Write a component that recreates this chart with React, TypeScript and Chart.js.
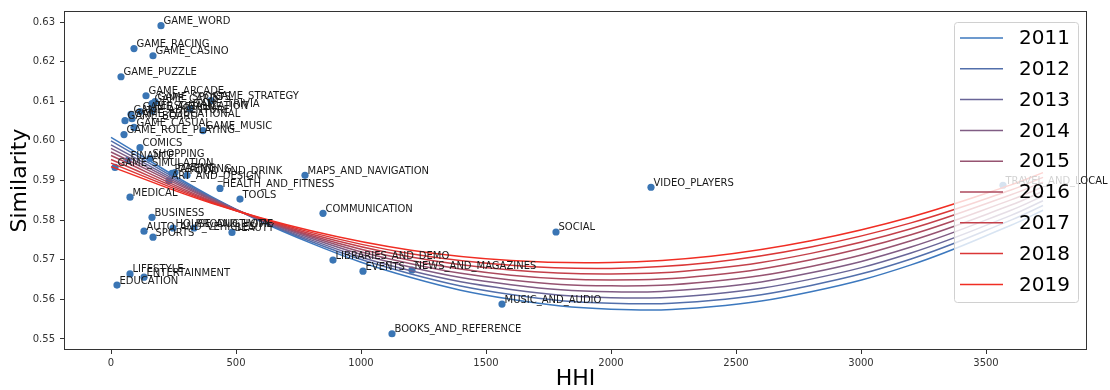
import React, { useEffect, useRef } from 'react';
import { Chart, registerables } from 'chart.js';

Chart.register(...registerables);

// ---- Data ----
const categories = [
  'GAME_WORD', 'GAME_RACING', 'GAME_CASINO', 'GAME_PUZZLE', 'GAME_ARCADE', 'GAME_STRATEGY',
  'GAME_SPORTS', 'GAME_CARD', 'GAME_TRIVIA', 'PERSONALIZATION', 'GAME_ACTION', 'GAME_ADVENTURE',
  'GAME_BOARD', 'GAME_EDUCATIONAL', 'GAME_CASUAL', 'GAME_ROLE_PLAYING', 'GAME_MUSIC', 'COMICS',
  'FINANCE', 'SHOPPING', 'GAME_SIMULATION', 'PARENTING', 'DATING', 'FOOD_AND_DRINK',
  'ART_AND_DESIGN', 'MEDICAL', 'HEALTH_AND_FITNESS', 'TOOLS', 'MAPS_AND_NAVIGATION', 'COMMUNICATION',
  'BUSINESS', 'HOUSE_AND_HOME', 'PRODUCTIVITY', 'AUTO_AND_VEHICLES', 'SPORTS', 'BEAUTY',
  'LIFESTYLE', 'ENTERTAINMENT', 'EDUCATION', 'LIBRARIES_AND_DEMO', 'EVENTS', 'NEWS_AND_MAGAZINES',
  'MUSIC_AND_AUDIO', 'BOOKS_AND_REFERENCE', 'SOCIAL', 'VIDEO_PLAYERS', 'TRAVEL_AND_LOCAL',
];
const hhi = [
  200, 92, 168, 40, 140, 400,
  176, 164, 316, 164, 116, 80,
  56, 84, 92, 52, 368, 116,
  68, 156, 16, 244, 256, 304,
  232, 76, 436, 516, 776, 848,
  164, 248, 332, 132, 168, 484,
  76, 132, 24, 888, 1008, 1204,
  1564, 1124, 1780, 2160, 3568,
];
const similarity = [
  0.6291, 0.6233, 0.6215, 0.6162, 0.6114, 0.6102,
  0.6099, 0.6094, 0.6081, 0.6076, 0.6074, 0.6067,
  0.6051, 0.6056, 0.6034, 0.6016, 0.6026, 0.5983,
  0.5951, 0.5956, 0.5933, 0.5918, 0.5920, 0.5913,
  0.5899, 0.5858, 0.5880, 0.5853, 0.5913, 0.5817,
  0.5807, 0.5780, 0.5780, 0.5772, 0.5757, 0.5769,
  0.5664, 0.5656, 0.5636, 0.5699, 0.5671, 0.5674,
  0.5588, 0.5513, 0.5770, 0.5883, 0.5888,
];

const years = ['2011', '2012', '2013', '2014', '2015', '2016', '2017', '2018', '2019'];
const fitX = [0, 400, 800, 1200, 1600, 2000, 2400, 2800, 3200, 3600, 3728];
const fit2011 = [0.6009, 0.5860, 0.5742, 0.5655, 0.5600, 0.5575, 0.5581, 0.5619, 0.5687, 0.5787, 0.5825];
const fit2012 = [0.6000, 0.5858, 0.5746, 0.5664, 0.5612, 0.5590, 0.5597, 0.5635, 0.5702, 0.5800, 0.5837];
const fit2013 = [0.5990, 0.5856, 0.5750, 0.5672, 0.5625, 0.5604, 0.5613, 0.5651, 0.5717, 0.5812, 0.5849];
const fit2014 = [0.5981, 0.5854, 0.5754, 0.5681, 0.5637, 0.5619, 0.5629, 0.5667, 0.5732, 0.5825, 0.5861];
const fit2015 = [0.5972, 0.5852, 0.5758, 0.5690, 0.5649, 0.5634, 0.5645, 0.5683, 0.5748, 0.5838, 0.5873];
const fit2016 = [0.5963, 0.5849, 0.5761, 0.5698, 0.5661, 0.5649, 0.5661, 0.5700, 0.5763, 0.5851, 0.5884];
const fit2017 = [0.5953, 0.5847, 0.5765, 0.5707, 0.5674, 0.5664, 0.5677, 0.5716, 0.5778, 0.5864, 0.5896];
const fit2018 = [0.5944, 0.5845, 0.5769, 0.5715, 0.5686, 0.5678, 0.5693, 0.5732, 0.5793, 0.5876, 0.5908];
const fit2019 = [0.5935, 0.5843, 0.5773, 0.5724, 0.5698, 0.5693, 0.5709, 0.5748, 0.5808, 0.5889, 0.5920];
const fits = [fit2011, fit2012, fit2013, fit2014, fit2015, fit2016, fit2017, fit2018, fit2019];

const xTicks = [0, 500, 1000, 1500, 2000, 2500, 3000, 3500];
const yTicks = [0.55, 0.56, 0.57, 0.58, 0.59, 0.60, 0.61, 0.62, 0.63];

// ---- Styles ----
const yearColors = [
  'rgb(60,120,190)', 'rgb(82,111,171)', 'rgb(105,101,151)', 'rgb(128,92,132)', 'rgb(150,83,113)',
  'rgb(172,73,93)', 'rgb(195,64,74)', 'rgb(218,54,54)', 'rgb(240,45,35)',
];
const DOT_COLOR = '#3a75b4';
const FONT = '"DejaVu Sans", sans-serif';

const labelPlugin = {
  id: 'pointLabels',
  afterDatasetsDraw(chart: any) {
    const ctx = chart.ctx;
    const xs = chart.scales.x;
    const ys = chart.scales.y;
    ctx.save();
    ctx.font = `10px ${FONT}`;
    ctx.fillStyle = '#1a1a1a';
    ctx.textAlign = 'left';
    ctx.textBaseline = 'alphabetic';
    categories.forEach((c, i) => {
      const px = xs.getPixelForValue(hhi[i]);
      const py = ys.getPixelForValue(similarity[i]);
      ctx.fillText(c, px + 2.5, py - 1.5);
    });
    const a = chart.chartArea;
    ctx.strokeStyle = '#333';
    ctx.lineWidth = 1;
    ctx.strokeRect(a.left + 0.5, a.top + 0.5, a.right - a.left - 1, a.bottom - a.top - 1);
    ctx.restore();
  },
};

const legendPlugin = {
  id: 'yearLegend',
  afterDraw(chart: any) {
    const ctx = chart.ctx;
    const a = chart.chartArea;
    const w = 124;
    const h = 280;
    const x0 = a.right - 9 - w;
    const y0 = a.top + 11;
    ctx.save();
    ctx.beginPath();
    ctx.roundRect(x0 + 0.5, y0 + 0.5, w, h, 3);
    ctx.fillStyle = 'rgba(255,255,255,0.8)';
    ctx.fill();
    ctx.strokeStyle = '#d0d0d0';
    ctx.lineWidth = 1;
    ctx.stroke();
    ctx.font = `20px ${FONT}`;
    ctx.textAlign = 'left';
    ctx.textBaseline = 'middle';
    years.forEach((yr, i) => {
      const ry = y0 + 16 + i * 30.8;
      ctx.beginPath();
      ctx.moveTo(x0 + 6, ry);
      ctx.lineTo(x0 + 49, ry);
      ctx.strokeStyle = yearColors[i];
      ctx.lineWidth = 1.5;
      ctx.stroke();
      ctx.fillStyle = '#000';
      ctx.fillText(yr, x0 + 65, ry + 1);
    });
    ctx.restore();
  },
};

export default function App() {
  const canvasRef = useRef<HTMLCanvasElement | null>(null);

  useEffect(() => {
    document.body.style.margin = '0';
    const canvas = canvasRef.current;
    if (!canvas) return;
    const scatterData = hhi.map((x, i) => ({ x, y: similarity[i] }));
    const lineSets = years.map((yr, i) => ({
      type: 'scatter' as const,
      label: yr,
      data: fitX.map((x, j) => ({ x, y: fits[i][j] })),
      showLine: true,
      borderColor: yearColors[i],
      backgroundColor: yearColors[i],
      borderWidth: 1.5,
      pointRadius: 0,
      pointHoverRadius: 0,
      tension: 0.4,
      fill: false,
      order: 8 - i,
    }));
    const chart = new Chart(canvas, {
      type: 'scatter',
      data: {
        datasets: [
          {
            type: 'scatter',
            label: 'categories',
            data: scatterData,
            backgroundColor: DOT_COLOR,
            borderWidth: 0,
            pointRadius: 3.6,
            order: 20,
          } as any,
          ...(lineSets as any[]),
        ],
      },
      options: {
        responsive: false,
        animation: false,
        devicePixelRatio: 1,
        layout: { padding: { top: 10, right: 23, left: 0, bottom: 0 } },
        plugins: {
          legend: { display: false },
          tooltip: { enabled: false },
        },
        scales: {
          x: {
            type: 'linear',
            min: -188,
            max: 3904,
            afterBuildTicks: (s: any) => {
              s.ticks = xTicks.map((v) => ({ value: v }));
            },
            afterFit: (s: any) => {
              s.height = 40;
            },
            grid: { drawOnChartArea: false, drawTicks: true, tickLength: 4, color: '#333' },
            border: { display: false },
            ticks: {
              font: { family: FONT, size: 10 },
              color: '#333',
              padding: 3,
              maxRotation: 0,
              autoSkip: false,
              callback: (v: any) => String(v),
            },
            title: {
              display: true,
              text: 'HHI',
              font: { family: FONT, size: 22, lineHeight: 1.0 },
              color: '#000',
              padding: { top: 0, bottom: 0 },
            },
          },
          y: {
            type: 'linear',
            min: 0.5472,
            max: 0.6328,
            afterBuildTicks: (s: any) => {
              s.ticks = yTicks.map((v) => ({ value: v }));
            },
            afterFit: (s: any) => {
              s.width = 64;
            },
            grid: { drawOnChartArea: false, drawTicks: true, tickLength: 4, color: '#333' },
            border: { display: false },
            ticks: {
              font: { family: FONT, size: 10 },
              color: '#333',
              padding: 5,
              autoSkip: false,
              callback: (v: any) => Number(v).toFixed(2),
            },
            title: {
              display: true,
              text: 'Similarity',
              font: { family: FONT, size: 22, lineHeight: 1.0 },
              color: '#000',
              padding: { top: 9, bottom: 0 },
            },
          },
        },
      } as any,
      plugins: [labelPlugin, legendPlugin],
    });
    return () => chart.destroy();
  }, []);

  return (
    <div style={{ position: 'absolute', left: 0, top: 0, width: 1110, height: 390 }}>
      <canvas ref={canvasRef} width={1110} height={390} style={{ width: 1110, height: 390 }} />
    </div>
  );
}
